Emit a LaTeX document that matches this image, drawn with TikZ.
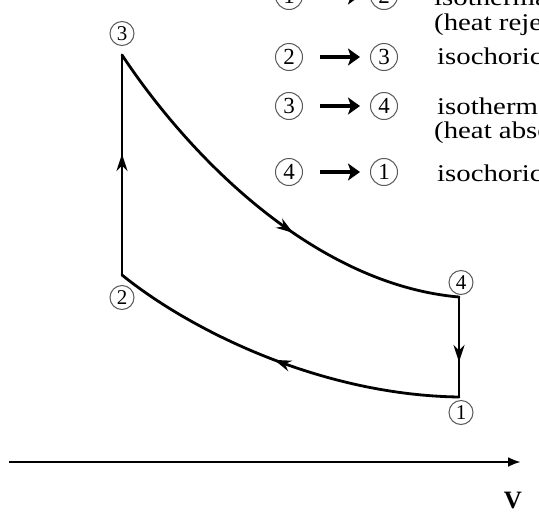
\documentclass[tikz,border=0pt]{standalone}
\usepackage{fontspec}
\setmainfont{Liberation Serif}
\newfontfamily\legendfont[FakeStretch=1.2]{Liberation Serif}
\usetikzlibrary{arrows.meta,positioning,decorations.markings}

\begin{document}
\begin{tikzpicture}[
  x=1pt, y=-1pt,
  cyc/.style={line width=2.8pt, line cap=round},
  num/.style={draw=black!65, circle, line width=1pt, inner sep=0pt, minimum size=24pt, font=\fontsize{21}{21}\selectfont},
  bignum/.style={num, minimum size=27pt, font=\fontsize{23}{23}\selectfont},
  txt/.style={anchor=base west, inner sep=0pt, font=\legendfont\fontsize{24}{26}\selectfont},
  legarr/.style={-{Stealth[length=12pt,width=17pt,inset=3pt]}, line width=4.5pt, shorten <=17pt, shorten >=10pt},
  midarr/.style={postaction={decorate}, decoration={markings, mark=at position #1 with {\arrow{Stealth[length=17pt,width=11pt]}}}}
]
  \useasboundingbox (0,0) rectangle (539,512);
  \clip (0,0) rectangle (539,512);

  % corners of the cycle
  \coordinate (p1) at (459,397);
  \coordinate (p2) at (122,275);
  \coordinate (p3) at (122,55);
  \coordinate (p4) at (459,297);

  \draw[cyc, midarr=0.55] (p2) -- (p3);
  \draw[cyc, midarr=0.58] (p3) .. controls (195,165) and (320,285) .. (p4);
  \draw[cyc, midarr=0.65] (p4) -- (p1);
  \draw[cyc, midarr=0.52] (p1) .. controls (320,395) and (190,330) .. (p2);

  % state labels
  \node[num, above=9pt of p3] (n3) {3};
  \node[num, below=10pt of p2] (n2) {2};
  \node[num, above=2pt of p4, xshift=2pt] (n4) {4};
  \node[num, below=3pt of p1, xshift=2pt] (n1) {1};

  % volume axis
  \coordinate (ax0) at (9,462);
  \coordinate (ax1) at (521,462);
  \draw[-{Latex[length=13pt,width=10pt]}, line width=2.8pt] (ax0) -- (ax1);
  \node[font=\bfseries\fontsize{25}{25}\selectfont, inner sep=0pt] (vlab) at (513,500) {V};

  % legend
  \node[bignum] (a12) at (289,-4) {1};
  \node[bignum] (b12) at (384,-4) {2};
  \draw[legarr] (a12) -- (b12);
  \node[txt] (t12) at (434,5) {isothermal};
  \node[txt] (u12) at (434,30) {(heat rejected)};

  \node[bignum] (a23) at (289,57) {2};
  \node[bignum] (b23) at (384,57) {3};
  \draw[legarr] (a23) -- (b23);
  \node[txt] (t23) at (437,64) {isochoric};

  \node[bignum] (a34) at (289,106) {3};
  \node[bignum] (b34) at (384,106) {4};
  \draw[legarr] (a34) -- (b34);
  \node[txt] (t34) at (437,114) {isothermal};
  \node[txt] (u34) at (434,138) {(heat absorbed)};

  \node[bignum] (a41) at (289,172) {4};
  \node[bignum] (b41) at (384,172) {1};
  \draw[legarr] (a41) -- (b41);
  \node[txt] (t41) at (437,181) {isochoric};
\end{tikzpicture}
\end{document}
